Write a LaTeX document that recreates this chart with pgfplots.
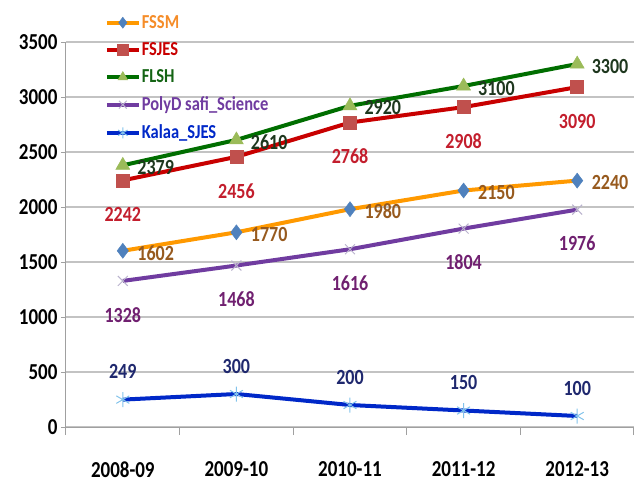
\documentclass[border=0pt]{standalone}
\usepackage{pgfplots}
\pgfplotsset{compat=1.18}
\usepackage{fontspec}
\setmainfont{Carlito}

\definecolor{fssmline}{RGB}{255,153,0}
\definecolor{fssmmark}{RGB}{79,129,189}
\definecolor{fssmtxt}{RGB}{151,90,30}
\definecolor{fssmleg}{RGB}{245,140,40}
\definecolor{fsjesline}{RGB}{200,0,0}
\definecolor{fsjesmark}{RGB}{192,80,77}
\definecolor{fsjestxt}{RGB}{195,30,45}
\definecolor{flshline}{RGB}{0,110,0}
\definecolor{flshmark}{RGB}{155,187,89}
\definecolor{flshtxt}{RGB}{30,55,30}
\definecolor{flshleg}{RGB}{20,100,20}
\definecolor{polyline}{RGB}{112,60,160}
\definecolor{polymark}{RGB}{185,178,205}
\definecolor{polytxt}{RGB}{112,32,112}
\definecolor{kalaline}{RGB}{0,40,200}
\definecolor{kalamark}{RGB}{130,195,235}
\definecolor{kalatxt}{RGB}{31,40,110}
\definecolor{gridgray}{RGB}{195,195,195}
\definecolor{axisgray}{RGB}{160,160,160}

\newcommand{\lblfont}{\bfseries\fontsize{18}{18}\selectfont}

\begin{document}
\begin{tikzpicture}
\useasboundingbox (-66pt,-56pt) rectangle (572pt,427pt);
\begin{axis}[
  at={(0pt,0pt)}, anchor=south west,
  scale only axis, width=568pt, height=385pt,
  xmin=-0.5, xmax=4.5, ymin=0, ymax=3500,
  xtick={0,1,2,3,4},
  xticklabels={2008-09,2009-10,2010-11,2011-12,2012-13},
  minor xtick={-0.5,0.5,1.5,2.5,3.5,4.5},
  ytick={0,500,...,3500},
  axis lines*=left,
  axis line style={axisgray, line width=1pt},
  ymajorgrids, grid style={gridgray, line width=1.2pt},
  tick align=outside,
  major x tick style={draw=none},
  minor x tick style={axisgray, line width=1pt},
  y tick style={axisgray, line width=1pt},
  minor tick length=8pt,
  major tick length=5pt,
  /pgf/number format/assume math mode=true,
  /pgf/number format/1000 sep={},
  tick label style={font=\bfseries\fontsize{19}{19}\selectfont, yscale=1.2},
  xticklabel style={yshift=-21pt},
  clip=false,
  legend cell align=left,
  legend image code/.code={\draw[mark repeat=2,mark phase=2,#1,mark size=5.5pt] plot coordinates {(0pt,0pt)(16pt,0pt)(32pt,0pt)};},
  legend style={at={(axis description cs:0.068,1.073)}, anchor=north west,
    draw=none, fill=none, inner sep=0pt, row sep=10pt,
    font=\bfseries\fontsize{16.5}{16.5}\selectfont,
    nodes={inner xsep=1pt, inner ysep=1pt, yscale=1.2}},
]
\addplot[fssmline, line width=4pt, mark=diamond*, mark size=7.5pt,
  mark options={fill=fssmmark, draw=fssmmark, line width=0.5pt},
  nodes near coords,
  every node near coord/.append style={text=fssmtxt, font=\lblfont, anchor=west, xshift=11pt, yshift=-2pt, yscale=1.2}]
  coordinates {(0,1602)(1,1770)(2,1980)(3,2150)(4,2240)};
\addlegendentry{\textcolor{fssmleg}{FSSM}}

\addplot[fsjesline, line width=4pt, mark=square*, mark size=6.5pt,
  mark options={fill=fsjesmark, draw=fsjesmark, line width=0.5pt},
  nodes near coords,
  every node near coord/.append style={text=fsjestxt, font=\lblfont, anchor=center, yshift=-34pt, yscale=1.2}]
  coordinates {(0,2242)(1,2456)(2,2768)(3,2908)(4,3090)};
\addlegendentry{\textcolor{fsjesline}{FSJES}}

\addplot[flshline, line width=4pt, mark=triangle*, mark size=8pt,
  mark options={fill=flshmark, draw=flshmark, line width=0.5pt},
  nodes near coords,
  every node near coord/.append style={text=flshtxt, font=\lblfont, anchor=west, xshift=11pt, yshift=-2pt, yscale=1.2}]
  coordinates {(0,2379)(1,2610)(2,2920)(3,3100)(4,3300)};
\addlegendentry{\textcolor{flshleg}{FLSH}}

\addplot[polyline, line width=4pt, mark=x, mark size=7pt,
  mark options={draw=polymark, line width=1pt},
  nodes near coords,
  every node near coord/.append style={text=polytxt, font=\lblfont, anchor=center, yshift=-34pt, yscale=1.2}]
  coordinates {(0,1328)(1,1468)(2,1616)(3,1804)(4,1976)};
\addlegendentry{\textcolor{polyline}{PolyD safi\_Science}}

\addplot[kalaline, line width=4pt, mark=asterisk, mark size=7.5pt,
  mark options={draw=kalamark, line width=1pt},
  nodes near coords,
  every node near coord/.append style={text=kalatxt, font=\lblfont, anchor=center, yshift=28pt, yscale=1.2}]
  coordinates {(0,249)(1,300)(2,200)(3,150)(4,100)};
\addlegendentry{\textcolor{kalaline}{Kalaa\_SJES}}
\end{axis}
\end{tikzpicture}
\end{document}
